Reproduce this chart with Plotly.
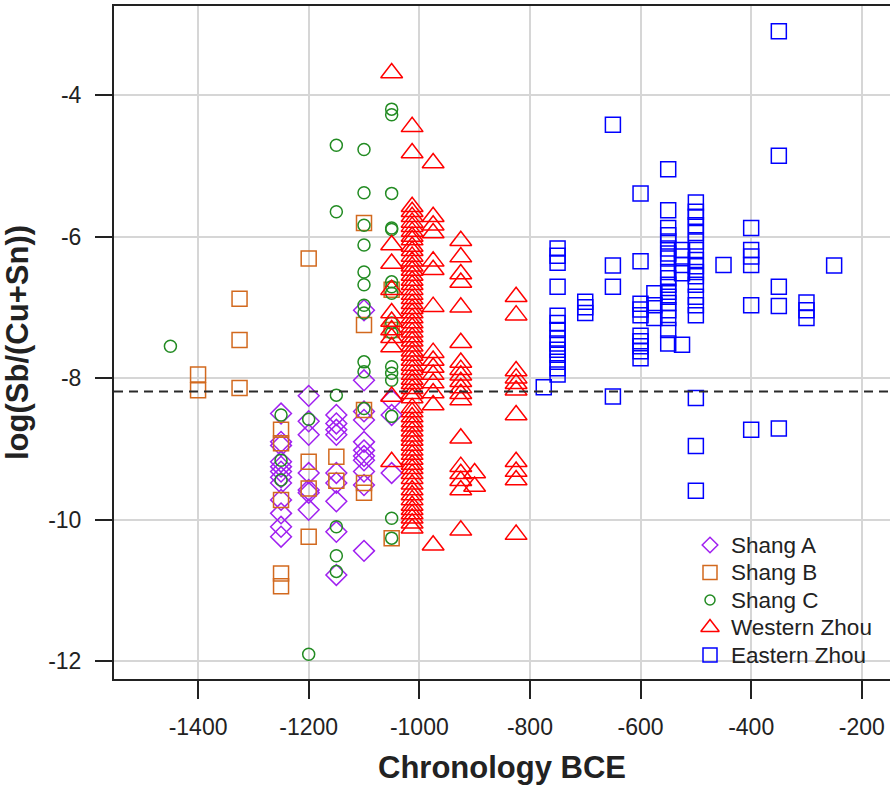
import plotly.graph_objects as go

# ---------------- data ----------------
shangA_x = [-1250]*12 + [-1200]*7 + [-1150]*9 + [-1100]*11 + [-1050]*3
shangA_y = [-8.50, -8.90, -8.95, -9.18, -9.25, -9.32, -9.40, -9.48, -9.72, -9.91, -10.10, -10.24,
            -8.25, -8.61, -8.80, -9.34, -9.58, -9.62, -9.86,
            -8.52, -8.64, -8.73, -8.80, -9.34, -9.48, -9.74, -10.17, -10.78,
            -7.04, -8.03, -8.47, -8.59, -8.90, -9.02, -9.10, -9.16, -9.32, -9.51, -10.44,
            -8.31, -8.52, -9.34]

shangB_x = [-1400]*2 + [-1325]*3 + [-1250]*5 + [-1200]*4 + [-1150]*2 + [-1100]*5 + [-1050]*3
shangB_y = [-7.95, -8.17,
            -6.88, -7.46, -8.14,
            -8.73, -8.92, -9.72, -10.76, -10.94,
            -6.31, -9.18, -9.56, -10.24,
            -9.11, -9.45,
            -5.81, -7.25, -8.45, -9.48, -9.62,
            -6.75, -7.32, -10.26]

shangC_x = [-1450] + [-1250]*3 + [-1200]*2 + [-1150]*6 + [-1100]*11 + [-1050]*16
shangC_y = [-7.55,
            -8.52, -9.16, -9.44,
            -8.58, -11.90,
            -4.71, -5.65, -8.24, -10.10, -10.51, -10.73,
            -4.77, -5.38, -5.84, -6.12, -6.50, -6.68, -6.97, -7.08, -7.77, -7.91, -8.43,
            -4.20, -4.28, -5.39, -5.88, -5.90, -6.64, -6.71, -6.80, -7.22, -7.36, -7.84, -7.93,
            -8.03, -8.54, -9.98, -10.26]

wz_1050 = [-3.69, -6.12, -6.38, -6.75, -7.08, -7.20, -7.32, -7.43, -7.56, -8.26, -9.18]
wz_1013 = [-4.45, -4.82, -5.58, -5.65, -5.72, -5.80, -5.86, -5.93, -6.00, -6.05, -6.14, -6.20,
           -6.28, -6.35, -6.42, -6.48, -6.55, -6.62, -6.68, -6.75, -6.82, -6.88, -6.95, -7.02,
           -7.08, -7.15, -7.22, -7.28, -7.35, -7.42, -7.48, -7.55, -7.62, -7.68, -7.75, -7.82,
           -7.88, -7.95, -8.02, -8.08, -8.15, -8.22, -8.28, -8.42, -8.48, -8.55, -8.62, -8.68,
           -8.75, -8.82, -8.88, -8.95, -9.02, -9.08, -9.15, -9.22, -9.28, -9.35, -9.42, -9.50,
           -9.58, -9.65, -9.72, -9.80, -9.86, -9.92, -9.98, -10.05, -10.12]
wz_975 = [-4.96, -5.72, -5.84, -5.95, -6.35, -6.47, -6.99, -7.64, -7.75, -7.85, -7.95, -8.07,
          -8.21, -8.38, -10.36]
wz_925 = [-6.06, -6.29, -6.53, -6.65, -7.00, -7.50, -7.78, -7.88, -7.96, -8.05, -8.14, -8.22,
          -8.31, -8.85, -9.25, -9.35, -9.45, -9.58, -10.15]
wz_900 = [-9.34, -9.53]
wz_825 = [-6.85, -7.11, -7.90, -8.00, -8.08, -8.17, -8.52, -9.18, -9.32, -9.44, -10.21]
westernZhou_x = ([-1050]*len(wz_1050) + [-1013]*len(wz_1013) + [-975]*len(wz_975) +
                 [-925]*len(wz_925) + [-900]*len(wz_900) + [-825]*len(wz_825))
westernZhou_y = wz_1050 + wz_1013 + wz_975 + wz_925 + wz_900 + wz_825

ez_groups = {
    -775: [-8.13],
    -750: [-6.17, -6.27, -6.37, -6.71, -7.12, -7.22, -7.32, -7.44, -7.51, -7.60, -7.67, -7.77, -7.86, -7.95],
    -700: [-6.92, -7.00, -7.08],
    -650: [-4.42, -6.41, -6.71, -8.26],
    -600: [-5.39, -6.35, -6.95, -7.03, -7.11, -7.40, -7.48, -7.55, -7.62, -7.72],
    -575: [-6.80, -6.97, -7.15],
    -550: [-5.05, -5.63, -5.88, -5.98, -6.07, -6.17, -6.24, -6.31, -6.50, -6.59, -6.68, -6.78, -6.85,
           -6.94, -7.04, -7.15, -7.32, -7.51],
    -525: [-6.19, -6.28, -6.40, -6.52, -7.53],
    -500: [-5.52, -5.65, -5.72, -5.84, -5.95, -6.07, -6.19, -6.33, -6.42, -6.50, -6.56, -6.68, -6.85,
           -6.97, -7.11, -8.28, -8.96, -9.59],
    -450: [-6.40],
    -400: [-5.88, -6.19, -6.28, -6.40, -6.97, -8.73],
    -350: [-3.10, -4.86, -6.71, -6.98, -8.71],
    -300: [-6.93, -7.04, -7.15],
    -250: [-6.41],
}
easternZhou_x = [k for k, v in ez_groups.items() for _ in v]
easternZhou_y = [y for v in ez_groups.values() for y in v]

threshold = -8.19
x_ticks = [-1400, -1200, -1000, -800, -600, -400, -200]
y_ticks = [-4, -6, -8, -10, -12]

# ---------------- figure ----------------
FONT = "Liberation Sans, Arial, sans-serif"
TXT = "#222222"
series = [
    ("Shang A", shangA_x, shangA_y, "diamond-open", "#A020F0", 16, 12),
    ("Shang B", shangB_x, shangB_y, "square-open", "#D2691E", 15, 14),
    ("Shang C", shangC_x, shangC_y, "circle-open", "#228B22", 12, 10),
    ("Western Zhou", westernZhou_x, westernZhou_y, "triangle-up-open", "#FF0000", 19, 16),
    ("Eastern Zhou", easternZhou_x, easternZhou_y, "square-open", "#0000FF", 15, 14),
]

fig = go.Figure()
for name, xs, ys, sym, col, sz, _ in series:
    fig.add_trace(go.Scatter(
        x=xs, y=ys, mode="markers", name=name, showlegend=False,
        marker=dict(symbol=sym, color=col, size=sz, line=dict(width=1.5, color=col)),
    ))

fig.add_shape(type="line", xref="paper", yref="y", x0=0, x1=1, y0=threshold, y1=threshold,
              line=dict(color="#2a2a2a", width=2, dash="9px,6px"), layer="above")

# ---- legend (drawn on an overlay axis in plot-fraction units) ----
PLOT_L, PLOT_R, PLOT_T, PLOT_B = 114, 890, 6, 679
def fx(px):
    return (px - PLOT_L) / (PLOT_R - PLOT_L)
def fy(py):
    return 1 - (py - PLOT_T) / (PLOT_B - PLOT_T)

leg_marker_px = 710
leg_text_px = 729
leg_row0, leg_step = 545, 27.5
for i, (name, _, _, sym, col, _, lsz) in enumerate(series):
    ry = fy(leg_row0 + i * leg_step)
    fig.add_trace(go.Scatter(
        x=[fx(leg_marker_px)], y=[ry], xaxis="x2", yaxis="y2", mode="markers",
        showlegend=False, hoverinfo="skip",
        marker=dict(symbol=sym, color=col, size=lsz, line=dict(width=1.5, color=col)),
    ))
    fig.add_annotation(x=fx(leg_text_px), y=ry, xref="x2", yref="y2", text=name,
                       showarrow=False, xanchor="left", yanchor="middle",
                       font=dict(size=22.5, color=TXT, family=FONT))

fig.update_layout(
    width=890, height=791,
    margin=dict(l=PLOT_L, r=890 - PLOT_R, t=PLOT_T, b=791 - PLOT_B),
    paper_bgcolor="white", plot_bgcolor="white",
    font=dict(family=FONT, color=TXT, size=20),
    showlegend=False,
    xaxis=dict(
        range=[-1552, -149], tickvals=x_ticks, ticktext=[str(v) for v in x_ticks],
        showgrid=True, gridcolor="#d6d6d6", gridwidth=1.5, zeroline=False,
        showline=True, linecolor=TXT, linewidth=2, mirror=True,
        ticks="outside", ticklen=18, tickwidth=1.5, tickcolor=TXT,
        ticklabelstandoff=8, tickfont=dict(size=23),
        title=dict(text="<b>Chronology BCE</b>", font=dict(size=31, color=TXT), standoff=18),
    ),
    yaxis=dict(
        range=[-12.25, -2.743], tickvals=y_ticks, ticktext=[str(v) for v in y_ticks],
        showgrid=True, gridcolor="#d6d6d6", gridwidth=1.5, zeroline=False,
        showline=True, linecolor=TXT, linewidth=2,
        ticks="outside", ticklen=17, tickwidth=1.5, tickcolor=TXT,
        ticklabelstandoff=9, tickfont=dict(size=23),
        title=dict(text="<b>log(Sb/(Cu+Sn))</b>", font=dict(size=31, color=TXT), standoff=14),
    ),
    xaxis2=dict(overlaying="x", range=[0, 1], visible=False, fixedrange=True),
    yaxis2=dict(overlaying="y", range=[0, 1], visible=False, fixedrange=True),
)

fig.write_html("out.html")
